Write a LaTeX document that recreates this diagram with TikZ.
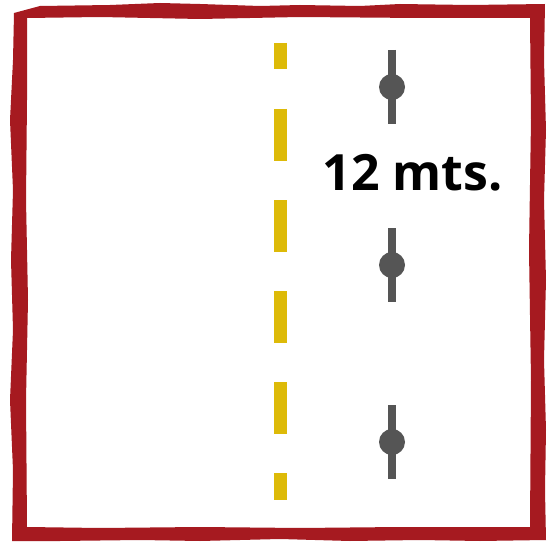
\documentclass[tikz,border=0pt]{standalone}
\usepackage{fontspec}
\setmainfont{Open Sans}
\definecolor{framered}{RGB}{166,26,32}
\definecolor{roadyellow}{RGB}{221,186,8}
\definecolor{markgray}{RGB}{85,85,85}
\tikzset{
  dashseg/.style={draw=roadyellow, line width=13pt},
  markline/.style={draw=markgray, line width=8pt},
  markdot/.style={circle, fill=markgray, minimum size=26pt, inner sep=0pt},
}
\begin{document}
\begin{tikzpicture}[x=1pt,y=-1pt]
\useasboundingbox (0,0) rectangle (547,543);
\fill[white] (0,0) rectangle (547,543);
% rough frame
\fill[framered, even odd rule]
  (14,13) -- (40,6) -- (110,5) -- (160,3) -- (200,4) -- (260,6) -- (300,5) -- (360,6) -- (400,4) -- (470,5) -- (545,4)
  -- (544,60) -- (546,130) -- (544,200) -- (546,280) -- (544,360) -- (546,430) -- (545,490) -- (546,540)
  -- (480,541) -- (420,540) -- (350,541) -- (280,539) -- (200,541) -- (140,540) -- (60,541) -- (12,541)
  -- (13,470) -- (10,400) -- (13,330) -- (11,260) -- (13,190) -- (10,120) -- (13,60) -- cycle
  (27,18) -- (100,17) -- (200,19) -- (300,17) -- (420,18) -- (530,18)
  -- (531,120) -- (529,250) -- (531,380) -- (530,527)
  -- (400,527) -- (300,528) -- (200,527) -- (100,528) -- (27,527)
  -- (26,400) -- (28,300) -- (26,200) -- (27,100) -- cycle;
% yellow dashed centre line
\coordinate (d1a) at (280.5,43);  \coordinate (d1b) at (280.5,69);
\coordinate (d2a) at (280.5,109); \coordinate (d2b) at (280.5,161);
\coordinate (d3a) at (280.5,200); \coordinate (d3b) at (280.5,252);
\coordinate (d4a) at (280.5,291); \coordinate (d4b) at (280.5,343);
\coordinate (d5a) at (280.5,382); \coordinate (d5b) at (280.5,434);
\coordinate (d6a) at (280.5,473); \coordinate (d6b) at (280.5,500);
\foreach \i in {1,...,6} { \draw[dashseg] (d\i a) -- (d\i b); }
% markers
\foreach \n/\y in {a/87, b/265, c/442} {
  \coordinate (t\n) at (392,\y-37);
  \coordinate (b\n) at (392,\y+37);
  \draw[markline] (t\n) -- (b\n);
  \node[markdot] (m\n) at (392,\y) {};
}
\node[anchor=base, inner sep=0pt, font=\fontsize{50}{50}\selectfont\bfseries] (lbl) at (412.5,190) {12 mts.};
\end{tikzpicture}
\end{document}
